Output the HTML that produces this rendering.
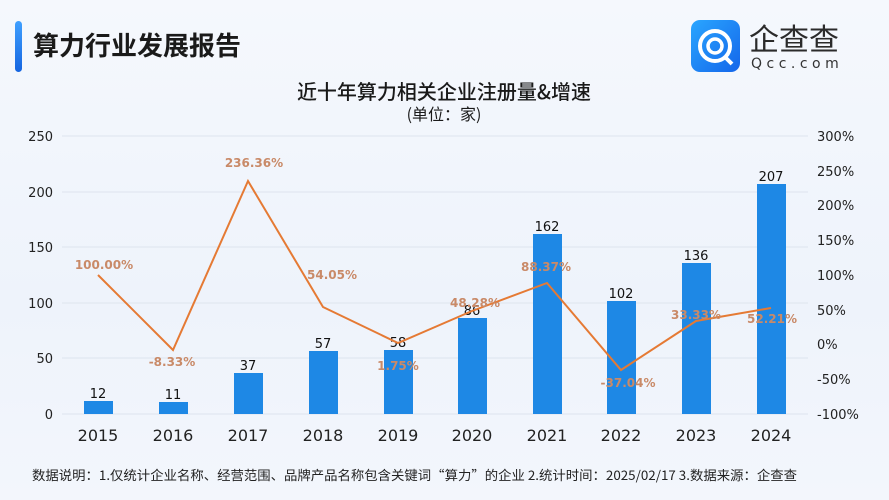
<!DOCTYPE html>
<html><head><meta charset="utf-8"><style>
html,body{margin:0;padding:0}
body{width:889px;height:500px;overflow:hidden;background:linear-gradient(180deg,#f5f8fd 0%,#eef3fb 60%,#f3f6fc 100%);font-family:"Liberation Sans","Noto Sans CJK SC",sans-serif;position:relative}
</style></head><body>
<svg width="889" height="500" xmlns="http://www.w3.org/2000/svg" style="position:absolute;left:0;top:0">
<defs><linearGradient id="bl" x1="0" y1="0" x2="0" y2="1"><stop offset="0" stop-color="#3fa0ff"/><stop offset="1" stop-color="#1565e0"/></linearGradient>
<linearGradient id="lg" x1="0" y1="0" x2="1" y2="1"><stop offset="0" stop-color="#2aa6ff"/><stop offset="1" stop-color="#1466ea"/></linearGradient></defs>
<rect x="15" y="21" width="7" height="51" rx="3.5" fill="url(#bl)"/>
<text x="33" y="55" font-size="26" font-weight="bold" fill="#1a1a1a" font-family="Noto Sans CJK SC,sans-serif">算力行业发展报告</text>
<rect x="691" y="20" width="49" height="52" rx="9" fill="url(#lg)"/>
<circle cx="715" cy="46" r="15" fill="none" stroke="#fff" stroke-width="4"/>
<circle cx="715" cy="46" r="7" fill="none" stroke="#fff" stroke-width="3.5"/>
<line x1="724" y1="56" x2="732" y2="64" stroke="#fff" stroke-width="4"/>
<text x="749" y="50" font-size="30" fill="#2b2b2b" font-family="Noto Sans CJK SC,sans-serif">企查查</text>
<text x="751" y="68" font-size="14" fill="#333" letter-spacing="4.5" font-family="DejaVu Sans,sans-serif">Qcc.com</text>
<text x="444" y="99" text-anchor="middle" font-size="20" font-weight="500" fill="#1a1a1a" font-family="Noto Sans CJK SC,sans-serif">近十年算力相关企业注册量&amp;增速</text>
<text x="444" y="120" text-anchor="middle" font-size="16" fill="#1a1a1a" font-family="Noto Sans CJK SC,sans-serif">(单位：家)</text>
<g stroke="#dde4ee" stroke-width="1">
<line x1="62" y1="136" x2="808" y2="136"/><line x1="62" y1="192" x2="808" y2="192"/><line x1="62" y1="247" x2="808" y2="247"/><line x1="62" y1="303" x2="808" y2="303"/><line x1="62" y1="358" x2="808" y2="358"/><line x1="62" y1="414" x2="808" y2="414"/>
</g>
<g font-size="13" fill="#222" text-anchor="end" font-family="DejaVu Sans,sans-serif">
<text x="53" y="141">250</text><text x="53" y="197">200</text><text x="53" y="252">150</text><text x="53" y="308">100</text><text x="53" y="363">50</text><text x="53" y="419">0</text>
</g>
<g font-size="13" fill="#222" font-family="DejaVu Sans,sans-serif">
<text x="817" y="141">300%</text><text x="817" y="176">250%</text><text x="817" y="210">200%</text><text x="817" y="245">150%</text><text x="817" y="280">100%</text><text x="817" y="315">50%</text><text x="817" y="349">0%</text><text x="817" y="384">-50%</text><text x="817" y="419">-100%</text>
</g>
<g fill="#1e88e5">
<rect x="84" y="401" width="29" height="13"/>
<rect x="159" y="402" width="29" height="12"/>
<rect x="234" y="373" width="29" height="41"/>
<rect x="309" y="351" width="29" height="63"/>
<rect x="384" y="350" width="29" height="64"/>
<rect x="458" y="318" width="29" height="96"/>
<rect x="533" y="234" width="29" height="180"/>
<rect x="607" y="301" width="29" height="113"/>
<rect x="682" y="263" width="29" height="151"/>
<rect x="757" y="184" width="29" height="230"/>
</g>
<g font-size="13" fill="#111" text-anchor="middle" font-family="DejaVu Sans,sans-serif">
<text x="98" y="398">12</text><text x="173" y="399">11</text><text x="248" y="370">37</text><text x="323" y="348">57</text><text x="398" y="347">58</text><text x="472" y="315">86</text><text x="547" y="231">162</text><text x="621" y="298">102</text><text x="696" y="260">136</text><text x="771" y="181">207</text>
</g>
<polyline fill="none" stroke="#e57a34" stroke-width="2" points="98,275 173,350 248,181 323,307 398,343 472,311 547,283 621,370 696,321 771,308"/>
<g font-size="12" font-weight="bold" fill="#c98a68" text-anchor="middle" font-family="DejaVu Sans,sans-serif">
<text x="104" y="269">100.00%</text><text x="172" y="366">-8.33%</text><text x="254" y="167">236.36%</text><text x="332" y="279">54.05%</text><text x="398" y="370">1.75%</text><text x="475" y="307">48.28%</text><text x="546" y="271">88.37%</text><text x="628" y="387">-37.04%</text><text x="696" y="319">33.33%</text><text x="772" y="323">52.21%</text>
</g>
<g font-size="16" fill="#222" text-anchor="middle" font-family="DejaVu Sans,sans-serif">
<text x="98" y="441">2015</text><text x="173" y="441">2016</text><text x="248" y="441">2017</text><text x="323" y="441">2018</text><text x="398" y="441">2019</text><text x="472" y="441">2020</text><text x="547" y="441">2021</text><text x="621" y="441">2022</text><text x="696" y="441">2023</text><text x="771" y="441">2024</text>
</g>
<text x="32" y="480" font-size="13" fill="#222" textLength="765" lengthAdjust="spacingAndGlyphs" font-family="Noto Sans CJK SC,sans-serif">数据说明：1.仅统计企业名称、经营范围、品牌产品名称包含关键词“算力”的企业  2.统计时间：2025/02/17   3.数据来源：企查查</text>
</svg>
</body></html>
